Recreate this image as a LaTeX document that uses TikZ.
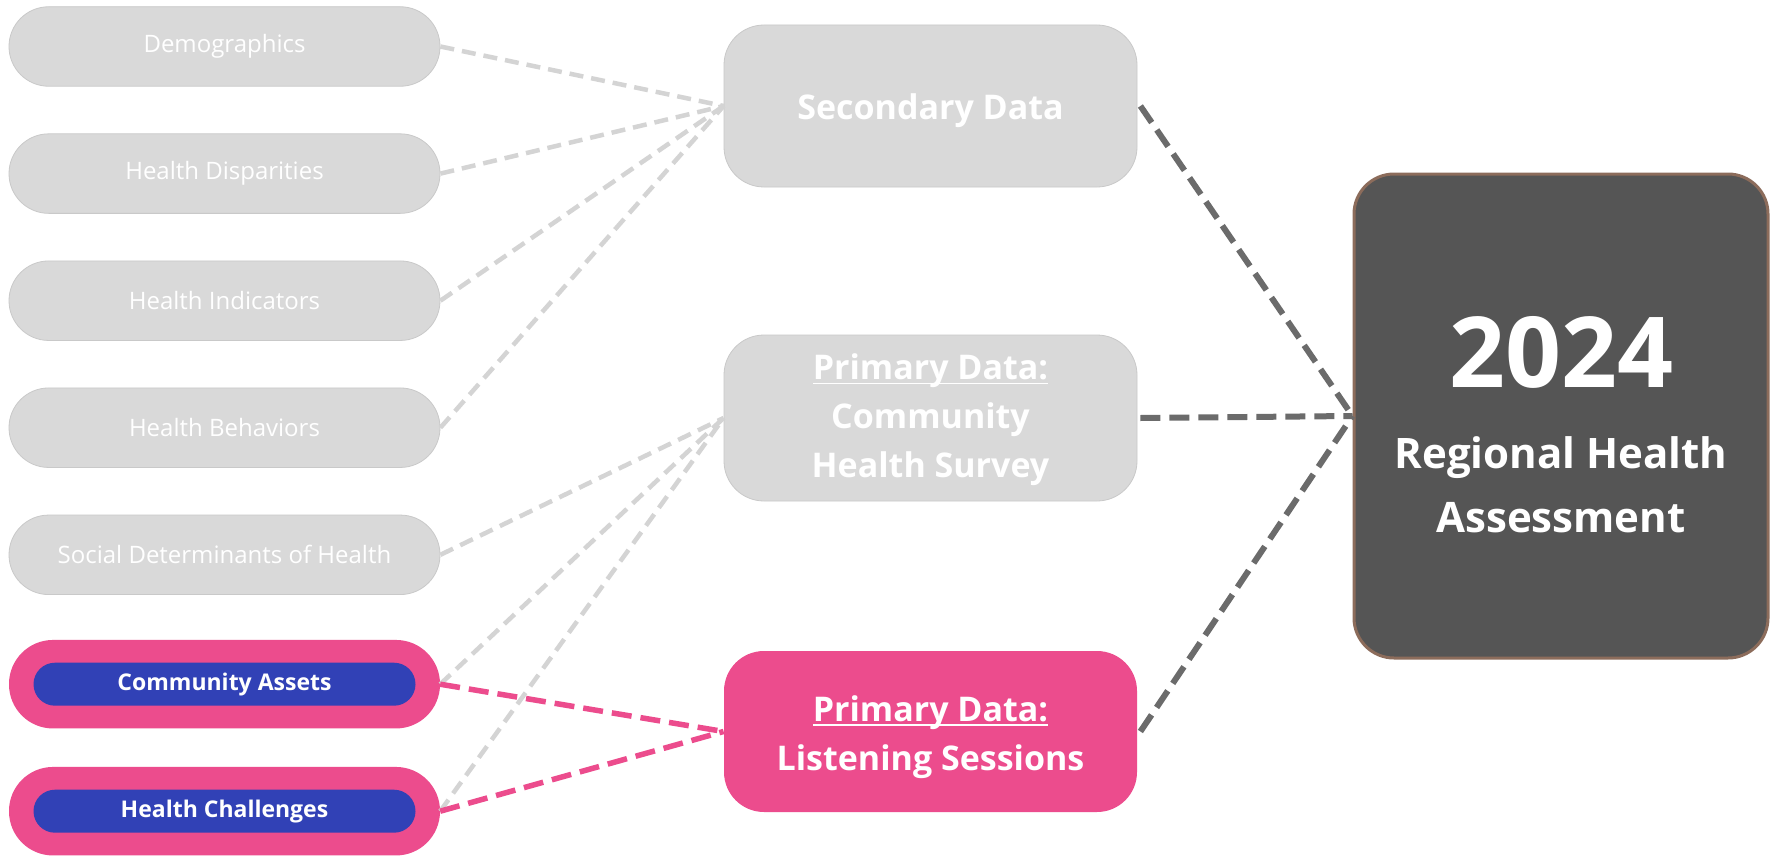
\documentclass[tikz,border=0pt]{standalone}
\usepackage{fontspec}
\setmainfont{Open Sans}
\definecolor{pillgrey}{HTML}{D9D9D9}
\definecolor{pilledge}{HTML}{C9C9C9}
\definecolor{lightdash}{HTML}{D4D4D4}
\definecolor{darkdash}{HTML}{6B6B6B}
\definecolor{hotpink}{HTML}{EC4C8D}
\definecolor{royal}{HTML}{3141B6}
\definecolor{darkbox}{HTML}{555555}
\definecolor{boxedge}{HTML}{8C6C5B}
\newcommand\myul[1]{\setbox0\hbox{#1}\rlap{\rule[-0.13em]{\wd0}{0.05em}}\box0}
\tikzset{
  greypill/.style={fill=pillgrey, draw=pilledge, line width=0.8pt, minimum width=431pt, minimum height=79.5pt, rounded corners=39.7pt, text=white, font=\fontsize{24}{28}\selectfont, inner sep=0pt},
  pinkpill/.style={fill=hotpink, draw=none, minimum width=431pt, minimum height=88.5pt, rounded corners=44pt, inner sep=0pt},
  bluepill/.style={fill=royal, draw=none, minimum width=382pt, minimum height=43pt, rounded corners=21.5pt, text=white, font=\fontsize{23}{27}\selectfont\bfseries, inner sep=0pt},
  midbox/.style={fill=pillgrey, draw=pilledge, line width=0.8pt, minimum width=413pt, rounded corners=40pt, text=white, font=\fontsize{34}{49}\selectfont\bfseries, align=center, inner sep=0pt},
  lightline/.style={draw=lightdash, line width=4.5pt, dash pattern=on 14pt off 8pt},
  pinkline/.style={draw=hotpink, line width=5.5pt, dash pattern=on 20pt off 9pt},
  darkline/.style={draw=darkdash, line width=6pt, dash pattern=on 20pt off 9pt},
}
\begin{document}
\begin{tikzpicture}[x=1pt, y=-1pt]
\useasboundingbox[fill=white] (0,0) rectangle (1779,856);
% left pills
\node[greypill] (dem) at (224.5,46.5) {Demographics};
\node[greypill] (dis) at (224.5,173.6) {Health Disparities};
\node[greypill] (ind) at (224.5,300.7) {Health Indicators};
\node[greypill] (beh) at (224.5,427.7) {Health Behaviors};
\node[greypill] (sdh) at (224.5,554.8) {Social Determinants of Health};
\node[pinkpill] (cao) at (224.5,684.2) {};
\node[bluepill] (ca) at (224.5,684.2) {Community Assets};
\node[pinkpill] (hco) at (224.5,811.2) {};
\node[bluepill] (hc) at (224.5,811.2) {Health Challenges};
% middle boxes
\node[midbox, minimum height=162pt] (sec) at (930.5,106) {\rule{0pt}{36pt}Secondary Data};
\node[midbox, minimum height=166pt] (srv) at (930.5,418) {\rule{0pt}{30pt}\myul{Primary Data:}\\Community\\Health Survey};
\node[midbox, minimum height=161pt, fill=hotpink, draw=none] (lis) at (930.5,731.5) {\rule{0pt}{37pt}\myul{Primary Data:}\\Listening Sessions};
% final box
\node[fill=darkbox, draw=boxedge, line width=3pt, minimum width=414pt, minimum height=484pt, rounded corners=40pt, text=white, align=center, inner sep=0pt, font=\fontsize{42}{64}\selectfont\bfseries] (rha) at (1561,416) {\rule{0pt}{88pt}{\fontsize{98}{100}\selectfont 2024}\\[17pt]Regional Health\\Assessment};
% connectors
\draw[lightline] (dem.east) -- (sec.west);
\draw[lightline] (dis.east) -- (sec.west);
\draw[lightline] (ind.east) -- (sec.west);
\draw[lightline] (beh.east) -- (sec.west);
\draw[lightline] (sdh.east) -- (srv.west);
\draw[lightline] (cao.east) -- (srv.west);
\draw[lightline] (hco.east) -- (srv.west);
\draw[pinkline] (cao.east) -- (lis.west);
\draw[pinkline] (hco.east) -- (lis.west);
\draw[darkline] ([xshift=3pt]sec.east) -- (rha.west);
\draw[darkline] ([xshift=3pt]srv.east) -- (rha.west);
\draw[darkline] ([xshift=3pt]lis.east) -- (rha.west);
\end{tikzpicture}
\end{document}
